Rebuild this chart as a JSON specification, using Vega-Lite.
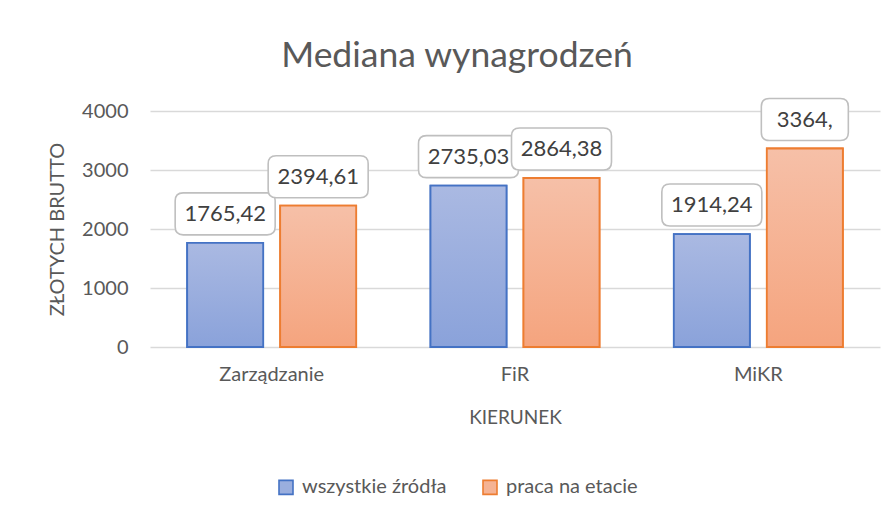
{
  "$schema": "https://vega.github.io/schema/vega-lite/v6.json",
  "width": 730,
  "height": 236,
  "autosize": {"type": "none"},
  "padding": {"left": 150, "top": 111, "right": 16, "bottom": 168},
  "background": "white",
  "config": {"view": {"stroke": null}, "font": "Lato"},
  "title": {
    "text": "Mediana wynagrodzeń",
    "fontSize": 35.5,
    "fontWeight": "normal",
    "color": "#595959",
    "font": "Lato",
    "anchor": "middle",
    "frame": "group",
    "dx": -58,
    "offset": 21
  },
  "data": {
    "values": [
      {"kierunek": "Zarządzanie", "series": "wszystkie źródła", "value": 1765.42, "label": "1765,42"},
      {"kierunek": "Zarządzanie", "series": "praca na etacie", "value": 2394.61, "label": "2394,61"},
      {"kierunek": "FiR", "series": "wszystkie źródła", "value": 2735.03, "label": "2735,03"},
      {"kierunek": "FiR", "series": "praca na etacie", "value": 2864.38, "label": "2864,38"},
      {"kierunek": "MiKR", "series": "wszystkie źródła", "value": 1914.24, "label": "1914,24"},
      {"kierunek": "MiKR", "series": "praca na etacie", "value": 3364, "label": "3364,"}
    ]
  },
  "encoding": {
    "x": {
      "field": "kierunek",
      "type": "nominal",
      "sort": ["Zarządzanie", "FiR", "MiKR"],
      "scale": {"paddingInner": 0.3055, "paddingOuter": 0.15275},
      "axis": {
        "title": "KIERUNEK",
        "labelAngle": 0,
        "labelFontSize": 20,
        "labelColor": "#595959",
        "labelPadding": 17,
        "titleFontSize": 19,
        "titleFontWeight": "normal",
        "titleColor": "#595959",
        "titlePadding": 24,
        "domain": false,
        "ticks": false,
        "grid": false
      }
    },
    "xOffset": {
      "field": "series",
      "type": "nominal",
      "sort": ["wszystkie źródła", "praca na etacie"],
      "scale": {"paddingInner": 0.1828, "paddingOuter": 0}
    },
    "y": {
      "field": "value",
      "type": "quantitative",
      "scale": {"domain": [0, 4000], "nice": false},
      "axis": {
        "title": "ZŁOTYCH BRUTTO",
        "values": [0, 1000, 2000, 3000, 4000],
        "format": "d",
        "labelFontSize": 20,
        "labelColor": "#595959",
        "labelPadding": 22,
        "titleFontSize": 20,
        "titleFontWeight": "normal",
        "titleColor": "#595959",
        "titlePadding": 14,
        "domain": false,
        "ticks": false,
        "grid": true,
        "gridColor": "#d9d9d9",
        "gridWidth": 1.3
      }
    }
  },
  "layer": [
    {
      "mark": {"type": "bar", "strokeWidth": 1.8},
      "encoding": {
        "fill": {
          "field": "series",
          "type": "nominal",
          "sort": ["wszystkie źródła", "praca na etacie"],
          "scale": {"domain": ["wszystkie źródła", "praca na etacie"], "range": ["#9aaede", "#f5b394"]},
          "legend": {
            "title": null,
            "orient": "none",
            "direction": "horizontal",
            "legendX": 126,
            "legendY": 366,
            "symbolType": "square",
            "symbolSize": 196,
            "symbolStrokeWidth": 1.6,
            "labelFontSize": 20,
            "labelColor": "#595959",
            "labelOffset": 6,
            "columnPadding": 32
          }
        },
        "stroke": {
          "field": "series",
          "type": "nominal",
          "sort": ["wszystkie źródła", "praca na etacie"],
          "scale": {"domain": ["wszystkie źródła", "praca na etacie"], "range": ["#4472c4", "#ed7d31"]},
          "legend": {
            "title": null,
            "orient": "none",
            "direction": "horizontal",
            "legendX": 126,
            "legendY": 366,
            "symbolType": "square",
            "symbolSize": 196,
            "symbolStrokeWidth": 1.6,
            "labelFontSize": 20,
            "labelColor": "#595959",
            "labelOffset": 6,
            "columnPadding": 32
          }
        }
      }
    },
    {
      "mark": {"type": "bar", "strokeWidth": 1.8},
      "encoding": {
        "fill": {
          "condition": {
            "test": "datum.series === 'wszystkie źródła'",
            "value": {"gradient": "linear", "x1": 0, "y1": 0, "x2": 0, "y2": 1, "stops": [{"offset": 0, "color": "#aab9e2"}, {"offset": 1, "color": "#8aa2da"}]}
          },
          "value": {"gradient": "linear", "x1": 0, "y1": 0, "x2": 0, "y2": 1, "stops": [{"offset": 0, "color": "#f6c0a8"}, {"offset": 1, "color": "#f5a47e"}]}
        },
        "stroke": {
          "condition": {"test": "datum.series === 'wszystkie źródła'", "value": "#4472c4"},
          "value": "#ed7d31"
        }
      }
    },
    {
      "mark": {"type": "point", "filled": true, "fill": "white", "stroke": "#bfbfbf", "strokeWidth": 1.6, "opacity": 1, "size": 10000, "yOffset": -29},
      "encoding": {
        "shape": {
          "condition": {
            "test": "datum.label === '3364,'",
            "value": "M -0.71 -0.42 L 0.71 -0.42 Q 0.87 -0.42 0.87 -0.26 L 0.87 0.26 Q 0.87 0.42 0.71 0.42 L -0.71 0.42 Q -0.87 0.42 -0.87 0.26 L -0.87 -0.26 Q -0.87 -0.42 -0.71 -0.42 Z"
          },
          "value": "M -0.84 -0.42 L 0.84 -0.42 Q 1 -0.42 1 -0.26 L 1 0.26 Q 1 0.42 0.84 0.42 L -0.84 0.42 Q -1 0.42 -1 0.26 L -1 -0.26 Q -1 -0.42 -0.84 -0.42 Z"
        }
      }
    },
    {
      "mark": {"type": "text", "fontSize": 22, "color": "#404040", "baseline": "middle", "align": "center", "yOffset": -29},
      "encoding": {
        "text": {"field": "label", "type": "nominal"}
      }
    }
  ]
}
